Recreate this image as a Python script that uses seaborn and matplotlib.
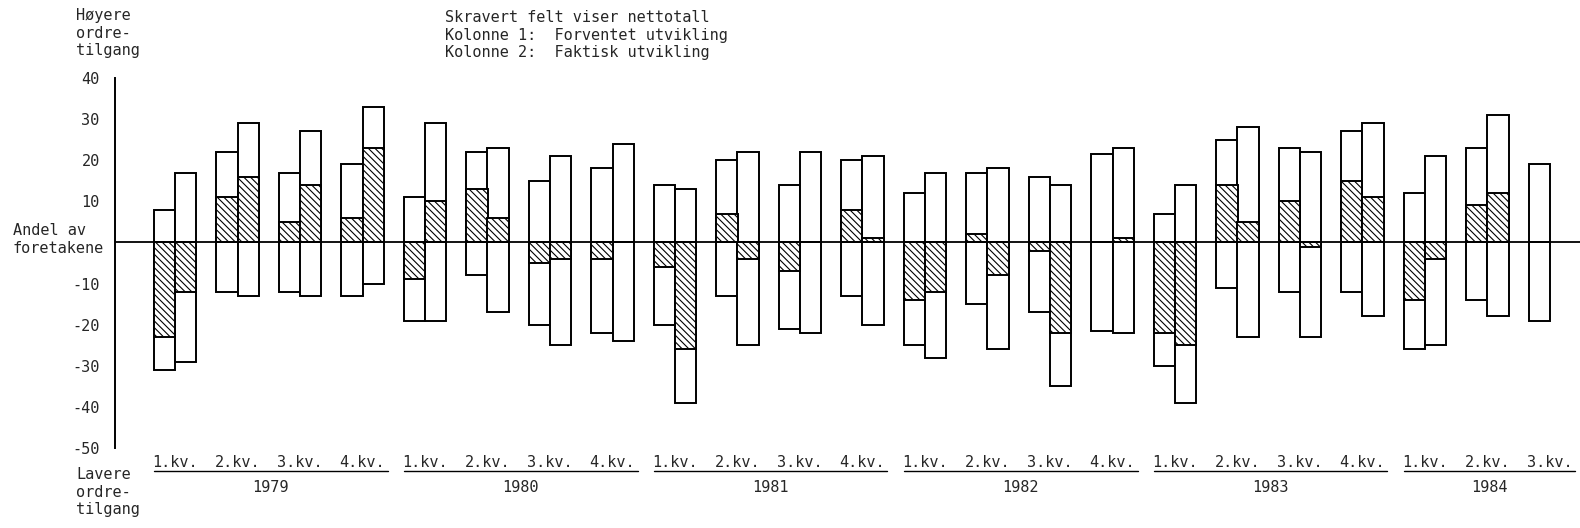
import numpy as np
import pandas as pd
import matplotlib
matplotlib.use("Agg")
import matplotlib.pyplot as plt
import matplotlib.transforms as mtransforms
import seaborn as sns

# Data lest fra figuren (andel foretak, prosent)
aar = ["1979", "1980", "1981", "1982", "1983", "1984"]
kvartal_per_aar = [4, 4, 4, 4, 4, 3]
kv_tekst = ["1.kv.", "2.kv.", "3.kv.", "4.kv."]

# Kolonne 1: forventet utvikling
opp1 = [8, 22, 17, 19, 11, 22, 15, 18, 14, 20, 14, 20, 12, 17, 16, 21.5, 7, 25, 23, 27, 12, 23, 19]
ned1 = [-31, -12, -12, -13, -19, -8, -20, -22, -20, -13, -21, -13, -25, -15, -17, -21.5, -30, -11, -12, -12, -26, -14, -19]
netto1 = [-23, 11, 5, 6, -9, 13, -5, -4, -6, 7, -7, 8, -14, 2, -2, 0, -22, 14, 10, 15, -14, 9, 0]

# Kolonne 2: faktisk utvikling
opp2 = [17, 29, 27, 33, 29, 23, 21, 24, 13, 22, 22, 21, 17, 18, 14, 23, 14, 28, 22, 29, 21, 31, np.nan]
ned2 = [-29, -13, -13, -10, -19, -17, -25, -24, -39, -25, -22, -20, -28, -26, -35, -22, -39, -23, -23, -18, -25, -18, np.nan]
netto2 = [-12, 16, 14, 23, 10, 6, -4, 0, -26, -4, 0, 1, -12, -8, -22, 1, -25, 5, -1, 11, -4, 12, np.nan]

y_ticks = [-50, -40, -30, -20, -10, 10, 20, 30, 40]

kvartaler = []
kv_labels = []
for a, n in zip(aar, kvartal_per_aar):
    for k in range(n):
        kvartaler.append(f"{a}-{k + 1}")
        kv_labels.append(kv_tekst[k])

df = pd.concat([
    pd.DataFrame({"kvartal": kvartaler, "kolonne": "1", "opp": opp1, "ned": ned1, "netto": netto1}),
    pd.DataFrame({"kvartal": kvartaler, "kolonne": "2", "opp": opp2, "ned": ned2, "netto": netto2}),
], ignore_index=True)

sns.set_style("white")
plt.rcParams["font.family"] = ["DejaVu Sans Mono"]
plt.rcParams["axes.unicode_minus"] = False
plt.rcParams["hatch.linewidth"] = 0.8

fig = plt.figure(figsize=(15.8, 5.28), dpi=100)
ax = fig.add_axes([115 / 1580, 1 - 448 / 528, 1 - 115 / 1580, 370 / 528])

bar_kw = dict(x="kvartal", hue="kolonne", order=kvartaler, hue_order=["1", "2"],
              palette=["white", "white"], saturation=1, edgecolor="black", linewidth=1.4,
              width=0.68, gap=0, errorbar=None, legend=False, ax=ax)
sns.barplot(data=df, y="opp", **bar_kw)
sns.barplot(data=df, y="ned", **bar_kw)
n_for = len(ax.patches)
sns.barplot(data=df, y="netto", **bar_kw)
for p in ax.patches[n_for:]:
    p.set_hatch("\\\\\\\\\\")
    p.set_facecolor("white")

ax.axhline(0, color="black", linewidth=1.3, zorder=5)

ax.set_ylim(-50, 40)
ax.set_xlim(-0.96, len(kvartaler) - 0.52)
ax.set_yticks(y_ticks)
ax.set_xticks([])
ax.set_xlabel("")
ax.set_ylabel("")
ax.tick_params(axis="y", direction="in", length=5, width=1.3, pad=11, labelsize=11)
for s in ["top", "right", "bottom"]:
    ax.spines[s].set_visible(False)
ax.spines["left"].set_linewidth(1.4)
ax.spines["left"].set_color("black")

# kvartal- og årstekster under figuren
trans = mtransforms.blended_transform_factory(ax.transData, ax.transAxes)
for i, lab in enumerate(kv_labels):
    ax.text(i, -0.04, lab, transform=trans, ha="center", va="center", fontsize=11)
start = 0
for a, n in zip(aar, kvartal_per_aar):
    x0, x1 = start - 0.34, start + n - 1 + 0.4
    ax.plot([x0, x1], [-0.061, -0.061], transform=trans, color="black", linewidth=1.0, clip_on=False)
    ax.text((x0 + x1) / 2, -0.106, a, transform=trans, ha="center", va="center", fontsize=11)
    start += n

fs = 11
ls = 1.22
fig.text(76 / 1580, 1 - 8 / 528, "Høyere\nordre-\ntilgang", ha="left", va="top", fontsize=fs, linespacing=ls)
fig.text(13 / 1580, 1 - 223 / 528, "Andel av\nforetakene", ha="left", va="top", fontsize=fs, linespacing=ls)
fig.text(76 / 1580, 1 - 467 / 528, "Lavere\nordre-\ntilgang", ha="left", va="top", fontsize=fs, linespacing=ls)
fig.text(445 / 1580, 1 - 10 / 528,
         "Skravert felt viser nettotall\nKolonne 1:  Forventet utvikling\nKolonne 2:  Faktisk utvikling",
         ha="left", va="top", fontsize=fs, linespacing=ls)

fig.savefig("out.png", dpi=100, facecolor="white")
